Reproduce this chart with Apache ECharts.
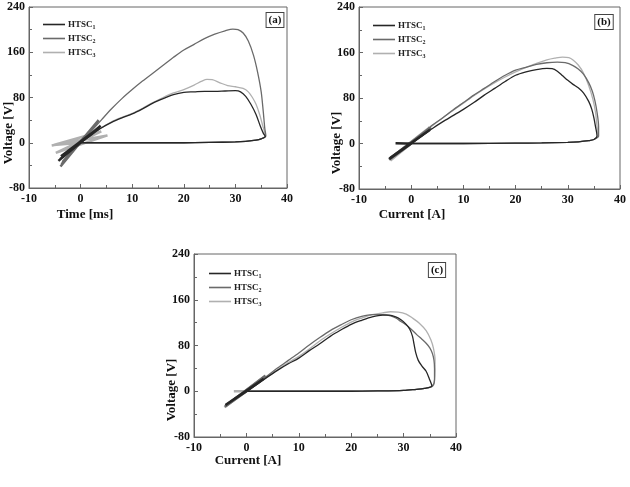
<!DOCTYPE html>
<html><head><meta charset="utf-8">
<script src="https://cdn.jsdelivr.net/npm/echarts@6/dist/echarts.min.js"></script>
<style>html,body{margin:0;padding:0;background:#fff}#c{width:630px;height:487px}</style>
</head><body><div id="c"></div>
<script>
// Tick values
var xTicks = [-10, 0, 10, 20, 30, 40];
var yTicks = [-80, 0, 80, 160, 240];
var seriesNames = ['HTSC1', 'HTSC2', 'HTSC3'];
var panelLabels = ['(a)', '(b)', '(c)'];
var xNames = ['Time [ms]', 'Current [A]', 'Current [A]'];
var yName = 'Voltage [V]';

// Panel (a)
var a1Osc = [[-4.3,-32],[3.9,30],[-4.0,-29],[3.6,27],[-3.8,-24],[0,0]];
var a1Main = [[0,0],[2,13],[4,26],[6,36],[8,44],[10,51],[12,60],[14,70],[16,78],[18,85],[20,89],[22,90],[24,91],[26,91],[28,91.5],[30,92],[31,90],[32,82],[33,68],[34,50],[34.8,30],[35.4,17],[35.8,11],[35,7],[34,4.5],[32,2.5],[30,1.5],[25,0.5],[20,0],[10,0],[0,0]];
var a2Osc = [[-3.9,-42],[3.5,40],[-3.7,-38],[3.3,37],[-3.5,-34],[0,0]];
var a2Main = [[0,0],[2,20],[4,40],[6,60],[8,78],[10,94],[12,109],[14,123],[16,137],[18,151],[20,164],[22,174],[24,184],[26,192],[28,198],[29.5,201],[30.5,200],[31.5,194],[32.5,180],[33.5,155],[34.3,125],[35,90],[35.4,55],[35.7,25],[35.9,12],[35,7],[34,4.5],[32,2.5],[30,1.5],[25,0.5],[20,0],[10,0],[0,0]];
var a3Osc = [[-5.6,-5],[5.2,13],[-4.8,-18],[4,20],[-5.2,-4],[0,0]];
var a3Main = [[0,0],[2,13],[4,26],[6,37],[8,45],[10,52],[12,61],[14,71],[16,80],[18,88],[20,94],[22,102],[23.5,109],[24.5,112],[25.5,111.5],[27,106],[28.5,101],[30,99],[31.5,96],[32.5,90],[33.3,80],[34,68],[34.7,50],[35.3,30],[35.8,12],[35,7],[34,4.5],[32,2.5],[30,1.5],[25,0.5],[20,0],[10,0],[0,0]];

// Panel (b)
var b1Osc = [[-3,0.5],[-1,0],[0,0],[-4.2,-27],[3.6,24],[-4.0,-25],[0,0]];
var b1Main = [[0,0],[2,13],[4,26],[6,38],[8,49],[10,60],[12,72],[14,85],[16,97],[18,109],[20,120],[22,126],[24,130],[26,132],[27,131.5],[28,127],[29,119],[30,111],[31,104],[32,98],[33,89],[34,74],[34.6,60],[35,45],[35.3,30],[35.6,13],[35,7],[34,5],[32,3],[30,2],[25,1],[20,0.5],[10,0],[0,0]];
var b2Osc = [[0,0],[-4.2,-28],[3.8,28],[-4.1,-27],[3.5,27],[0,0]];
var b2Main = [[0,0],[2,16],[4,32],[6,45],[8,59],[10,72],[12,85],[14,97],[16,109],[18,120],[20,129],[22,134],[24,139],[26,142],[28,143],[29.5,142],[31,137],[32,131],[33,122],[34,107],[34.7,92],[35.2,75],[35.6,55],[35.9,30],[35.9,13],[35,7],[34,5],[32,3],[30,2],[25,1],[20,0.5],[10,0],[0,0]];
var b3Osc = [[0,0],[-4,-30],[3.5,28],[-4.3,-28],[0,0]];
var b3Main = [[0,0],[2,16],[4,31],[6,45],[8,58],[10,71],[12,84],[14,96],[16,107],[18,117],[20,126],[22,134],[24,141],[26,147],[27.5,150],[29,152],[30.2,151],[31,147],[32,138],[33,124],[34,102],[34.8,78],[35.3,55],[35.6,30],[35.8,13],[35,7],[34,5],[32,3],[30,2],[25,1],[20,0.5],[10,0],[0,0]];

// Panel (c)
var c1Osc = [[0,0],[-4,-24],[3.3,22],[0,0]];
var c1Main = [[0,0],[2,12],[3.7,23],[6,37],[8,48],[10,58],[12,71],[14,83],[16,96],[18,107],[20,117],[22,124],[24,130],[26,133],[27.3,133],[28.5,130],[29.5,125],[30.5,117],[31.2,108],[31.7,96],[32,82],[32.3,68],[32.8,54],[33.5,44],[34.3,35],[34.9,22],[35.4,9],[34,5],[32,3],[30,1.5],[25,0.5],[20,0],[10,0],[0,0]];
var c2Osc = [[0,0],[-4.1,-27],[3.6,27],[-3.9,-25],[0,0]];
var c2Main = [[0,0],[2,14],[4,27],[6,41],[8,54],[10,67],[12,81],[14,94],[16,106],[18,116],[20,125],[22,131],[24,134],[26,134],[27.5,132],[28.5,128],[29.5,122],[30.5,116],[31.5,108],[32.5,99],[33.5,91],[34.3,84],[35,76],[35.5,66],[35.8,54],[35.9,40],[35.9,20],[35.5,9],[34,5],[32,3],[30,1.5],[25,0.5],[20,0],[10,0],[0,0]];
var c3Osc = [[-2.4,0],[0,0],[-4,-26],[3.7,27],[-4.2,-28],[3.5,25],[0,0]];
var c3Main = [[0,0],[2,13],[4,25],[6,38],[8,50],[10,61],[12,74],[14,88],[16,100],[18,111],[20,121],[22,128],[24,134],[26,137],[27.5,139],[29,138.5],[30.5,135],[31.7,128],[33,119],[34.3,106],[35.2,90],[35.7,75],[36,55],[36,35],[35.9,20],[35.6,9],[34,5],[32,3],[30,1.5],[25,0.5],[20,0],[10,0],[0,0]];

var panelData = [
  [[a1Osc, a1Main], [a2Osc, a2Main], [a3Osc, a3Main]],
  [[b1Osc, b1Main], [b2Osc, b2Main], [b3Osc, b3Main]],
  [[c1Osc, c1Main], [c2Osc, c2Main], [c3Osc, c3Main]]
];

var colors = ['#262626', '#6a6a6a', '#b0b0b0'];
var FONT = 'Liberation Serif';
var grids = [
  {left: 29, top: 7, width: 258, height: 181},
  {left: 359, top: 7, width: 261, height: 182},
  {left: 194, top: 254, width: 262, height: 183}
];
var legendPos = [{left: 38, top: 14}, {left: 368, top: 15}, {left: 204, top: 263}];
var labelBoxes = [{x: 275, y: 20}, {x: 604, y: 22}, {x: 437, y: 270}];
var yNamePos = [{x: 9, y: 133}, {x: 337, y: 143}, {x: 172, y: 390}];
var xNamePos = [{x: 85, y: 215}, {x: 412, y: 215}, {x: 248, y: 461}];

var option = {
  animation: false,
  backgroundColor: '#fff',
  grid: [], xAxis: [], yAxis: [], series: [], legend: [], graphic: []
};

var axisLabelStyle = {color: '#111', fontFamily: FONT, fontWeight: 'bold', fontSize: 12};
for (var p = 0; p < 3; p++) {
  option.grid.push(Object.assign({show: true, borderColor: '#666', borderWidth: 1}, grids[p]));
  option.xAxis.push({
    type: 'value', gridIndex: p, min: xTicks[0], max: xTicks[xTicks.length - 1],
    interval: xTicks[1] - xTicks[0],
    axisLine: {show: true, onZero: false, lineStyle: {color: '#666', width: 1}},
    axisTick: {show: true, inside: true, length: 4, lineStyle: {color: '#666'}},
    minorTick: {show: true, splitNumber: 2, length: 3, lineStyle: {color: '#666'}},
    splitLine: {show: false},
    axisLabel: Object.assign({margin: 5}, axisLabelStyle)
  });
  option.yAxis.push({
    type: 'value', gridIndex: p, min: yTicks[0], max: yTicks[yTicks.length - 1],
    interval: yTicks[1] - yTicks[0],
    axisLine: {show: true, onZero: false, lineStyle: {color: '#666', width: 1}},
    axisTick: {show: true, inside: true, length: 4, lineStyle: {color: '#666'}},
    minorTick: {show: true, splitNumber: 2, length: 3, lineStyle: {color: '#666'}},
    splitLine: {show: false},
    axisLabel: Object.assign({margin: 4}, axisLabelStyle)
  });
  for (var s = 0; s < 3; s++) {
    var d = panelData[p][s];
    option.series.push({
      type: 'line', name: seriesNames[s], xAxisIndex: p, yAxisIndex: p,
      data: d[0], symbol: 'none', smooth: false, z: 3 - s,
      lineStyle: {color: colors[s], width: 2.5}, itemStyle: {color: colors[s]}
    });
    option.series.push({
      type: 'line', name: seriesNames[s], xAxisIndex: p, yAxisIndex: p,
      data: d[1], symbol: 'none', smooth: 0.3, z: 3 - s,
      lineStyle: {color: colors[s], width: 1.3}, itemStyle: {color: colors[s]}
    });
  }
  option.legend.push({
    orient: 'vertical', left: legendPos[p].left, top: legendPos[p].top,
    icon: 'rect', itemWidth: 22, itemHeight: 1.6, itemGap: 3, selectedMode: false,
    data: seriesNames,
    formatter: function (n) { return 'HTSC{s|' + n.slice(4) + '}'; },
    textStyle: {
      color: '#222', fontFamily: FONT, fontWeight: 'bold', fontSize: 9, lineHeight: 11, padding: [0, 0, 0, -2],
      rich: {s: {fontSize: 6, fontFamily: FONT, fontWeight: 'bold', color: '#222', verticalAlign: 'bottom', padding: [4, 0, 0, 0]}}
    }
  });
  option.graphic.push({
    type: 'text', x: labelBoxes[p].x, y: labelBoxes[p].y, z: 10,
    style: {text: panelLabels[p], fill: '#111', font: 'bold 11px "' + FONT + '"',
      align: 'center', verticalAlign: 'middle',
      backgroundColor: '#fff', borderColor: '#444', borderWidth: 1, padding: [2, 2, 1, 2]}
  });
  option.graphic.push({
    type: 'text', x: yNamePos[p].x, y: yNamePos[p].y, rotation: Math.PI / 2,
    style: {text: yName, fill: '#111', font: 'bold 13px "' + FONT + '"', align: 'center', verticalAlign: 'middle'}
  });
  option.graphic.push({
    type: 'text', x: xNamePos[p].x, y: xNamePos[p].y,
    style: {text: xNames[p], fill: '#111', font: 'bold 13px "' + FONT + '"', align: 'center', verticalAlign: 'middle'}
  });
}

var chart = echarts.init(document.getElementById('c'), null, {renderer: 'canvas'});
chart.setOption(option);
</script>
</body></html>
